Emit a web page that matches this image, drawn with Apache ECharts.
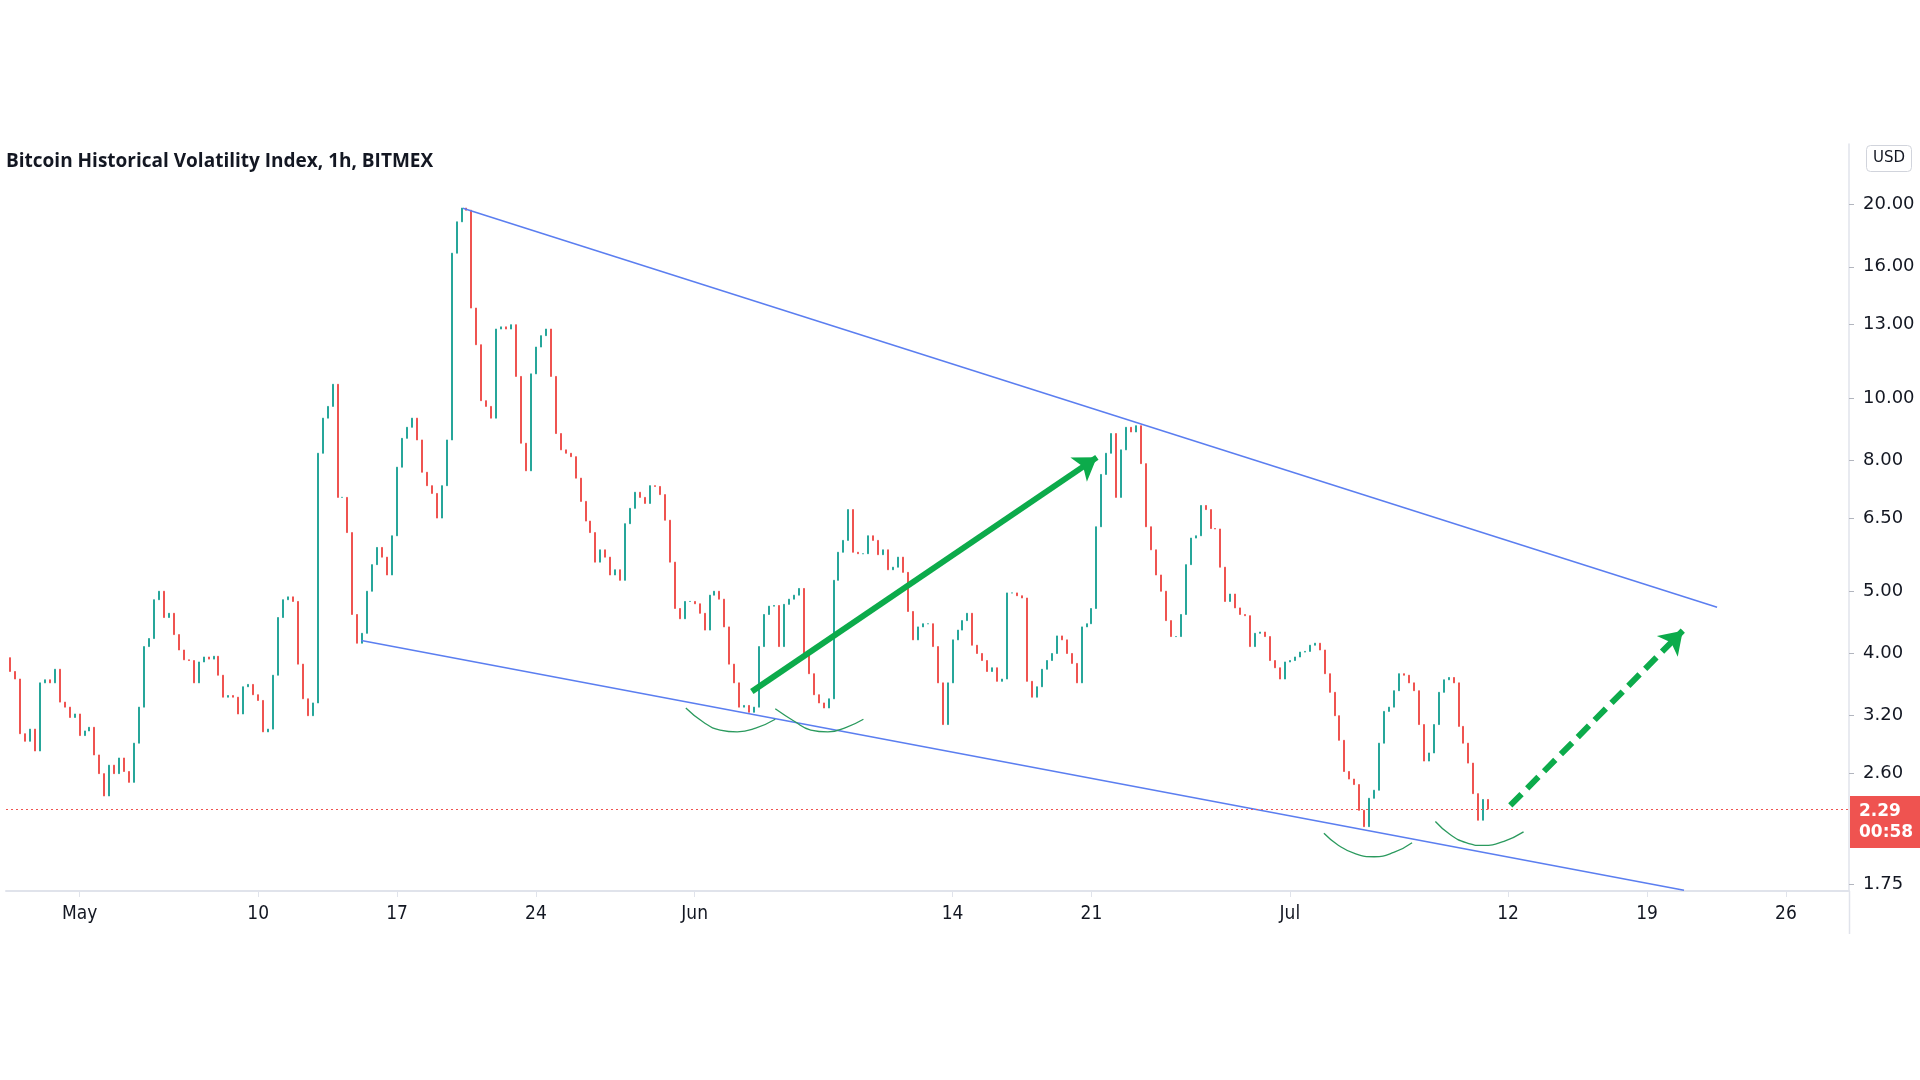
<!DOCTYPE html>
<html>
<head>
<meta charset="utf-8">
<script src="https://cdn.jsdelivr.net/npm/echarts@6/dist/echarts.min.js"></script>
<style>
html,body{margin:0;padding:0;background:#ffffff;}
#chart{width:1920px;height:1080px;}
</style>
</head>
<body>
<div id="chart"></div>
<script>
// ---------------- data ----------------
const chartTitle = 'Bitcoin Historical Volatility Index, 1h, BITMEX';
const currencyLabel = 'USD';
const candleStart = '2020-04-27 12:00';
const candleStepHours = 6;
const firstOpen = 3.94;
const closes = [
  3.75, 3.65, 3.0, 2.92, 3.05, 2.82, 3.6, 3.64, 3.6, 3.78,
  3.36, 3.3, 3.18, 3.22, 2.98, 3.03, 3.07, 2.78, 2.6, 2.4,
  2.68, 2.6, 2.75, 2.62, 2.52, 2.9, 3.3, 4.1, 4.22, 4.85,
  5.0, 4.55, 4.62, 4.28, 4.05, 3.91, 3.9, 3.6, 3.88, 3.95,
  3.92, 3.96, 3.7, 3.42, 3.44, 3.42, 3.22, 3.55, 3.58, 3.45,
  3.38, 3.02, 3.05, 3.7, 4.55, 4.85, 4.9, 4.82, 3.85, 3.4,
  3.2, 3.35, 8.2, 9.3, 9.7, 10.5, 7.0, 7.0, 6.17, 4.6,
  4.15, 4.3, 5.0, 5.5, 5.85, 5.65, 5.3, 6.1, 7.8, 8.65,
  9.0, 9.3, 8.6, 7.66, 7.3, 7.1, 6.5, 7.3, 8.6, 16.8,
  18.8, 19.75, 19.6, 13.8, 12.1, 9.9, 9.7, 9.3, 12.8, 12.9,
  12.8, 13.0, 10.8, 8.5, 7.7, 10.9, 12.0, 12.5, 12.8, 10.8,
  8.8, 8.3, 8.2, 8.1, 7.5, 6.9, 6.43, 6.17, 5.55, 5.8,
  5.65, 5.3, 5.4, 5.2, 6.37, 6.73, 7.13, 7.0, 6.85, 7.3,
  7.28, 7.07, 6.45, 5.55, 4.7, 4.53, 4.82, 4.82, 4.78, 4.62,
  4.35, 4.93, 5.0, 4.86, 4.4, 3.85, 3.6, 3.3, 3.32, 3.24,
  3.3, 4.1, 4.6, 4.74, 4.75, 4.1, 4.77, 4.86, 4.93, 5.05,
  4.0, 3.72, 3.45, 3.35, 3.29, 3.4, 5.2, 5.75, 6.0, 6.7,
  5.75, 5.72, 5.72, 6.1, 6.0, 5.7, 5.8, 5.4, 5.45, 5.65,
  5.35, 4.65, 4.2, 4.4, 4.45, 4.45, 4.1, 3.6, 3.1, 3.6,
  4.2, 4.35, 4.5, 4.62, 4.12, 4.0, 3.9, 3.75, 3.8, 3.62,
  3.65, 4.97, 4.97, 4.92, 4.88, 3.62, 3.42, 3.55, 3.78, 3.9,
  4.0, 4.26, 4.2, 4.0, 3.86, 3.6, 4.4, 4.45, 4.7, 6.3,
  7.6, 8.2, 8.8, 7.0, 8.3, 9.0, 8.85, 9.05, 7.9, 6.3,
  5.8, 5.3, 5.0, 4.5, 4.25, 4.25, 4.6, 5.5, 6.05, 6.1,
  6.8, 6.7, 6.26, 6.25, 5.45, 4.82, 4.95, 4.71, 4.6, 4.58,
  4.1, 4.3, 4.32, 4.25, 3.9, 3.8, 3.65, 3.88, 3.9, 3.95,
  4.02, 4.03, 4.12, 4.15, 4.05, 3.72, 3.48, 3.2, 2.93, 2.62,
  2.55, 2.5, 2.28, 2.15, 2.38, 2.45, 2.9, 3.25, 3.3, 3.5,
  3.72, 3.7, 3.6, 3.5, 3.1, 2.72, 2.8, 3.1, 3.48, 3.64,
  3.67, 3.6, 3.08, 2.9, 2.7, 2.42, 2.2, 2.37, 2.29
];
const lastPrice = 2.29;
const countdownText = '00:58';

const priceTicks = [20, 16, 13, 10, 8, 6.5, 5, 4, 3.2, 2.6, 1.75];
const timeTickDates = ['2020-05-01 00:00','2020-05-10 00:00','2020-05-17 00:00','2020-05-24 00:00','2020-06-01 00:00','2020-06-14 00:00','2020-06-21 00:00','2020-07-01 00:00','2020-07-12 00:00','2020-07-19 00:00','2020-07-26 00:00'];
const timeTickLabels = ['May','10','17','24','Jun','14','21','Jul','12','19','26'];
const timeRange = ['2020-04-27 07:00', '2020-07-29 04:20'];
const priceRange = [1.707, 24.85];

// drawn annotations (time, value)
const upperTrend = [['2020-05-20 07:42', 19.74], ['2020-07-22 12:45', 4.72]];
const lowerTrend = [['2020-05-15 04:45', 4.19], ['2020-07-20 20:44', 1.712]];
const solidArrow = [['2020-06-03 21:11', 3.49], ['2020-06-21 06:31', 8.08]];
const dashedArrow = [['2020-07-12 02:40', 2.32], ['2020-07-20 19:15', 4.34]];
const arc1 = [['2020-05-31 13:20', 3.29], ['2020-06-01 11:33', 3.12], ['2020-06-02 06:49', 3.04], ['2020-06-03 03:33', 3.02], ['2020-06-04 01:47', 3.06], ['2020-06-05 01:30', 3.16]];
const arc2 = [['2020-06-05 01:30', 3.28], ['2020-06-06 00:00', 3.14], ['2020-06-06 20:27', 3.04], ['2020-06-07 17:11', 3.02], ['2020-06-08 15:25', 3.07], ['2020-06-09 12:09', 3.16]];
const arc3 = [['2020-07-02 17:11', 2.10], ['2020-07-03 10:58', 2.01], ['2020-07-04 07:42', 1.95], ['2020-07-05 05:56', 1.93], ['2020-07-06 05:38', 1.96], ['2020-07-07 03:50', 2.03]];
const arc4 = [['2020-07-08 08:00', 2.19], ['2020-07-09 01:47', 2.09], ['2020-07-09 21:03', 2.03], ['2020-07-10 17:47', 2.01], ['2020-07-11 18:58', 2.04], ['2020-07-12 18:40', 2.11]];

// ---------------- build ----------------
function utc(s) { return Date.parse(s.replace(' ', 'T') + ':00Z'); }
const pts = arr => arr.map(p => [utc(p[0]), p[1]]);

const t0 = utc(candleStart);
const step = candleStepHours * 3600 * 1000;
const candleData = closes.map((c, i) => {
  const o = i === 0 ? firstOpen : closes[i - 1];
  return [t0 + i * step, o, c, Math.min(o, c), Math.max(o, c)];
});
const timeTickValues = timeTickDates.map(utc);

const UP = '#26a69a', DOWN = '#ef5350';
const BLUE = '#5b7ef0', GREEN = '#0cab4b', ARC = '#2b9a5e';
const TXT = '#131722', AXIS = '#e0e3eb';

function lineSeries(data, color, width, smooth) {
  return { type: 'line', data: pts(data), symbol: 'none', smooth: !!smooth, silent: true,
    lineStyle: { color: color, width: width }, z: 3 };
}
function arrowSeries(data, dash) {
  const p = pts(data);
  return { type: 'line', data: [], silent: true, z: 4,
    markLine: { silent: true, animation: false, symbol: ['none', 'arrow'], symbolSize: 22,
      label: { show: false },
      lineStyle: { color: GREEN, width: 6, type: dash ? [16, 8] : 'solid', cap: 'butt' },
      data: [[{ coord: p[0] }, { coord: p[1] }]] } };
}

const chart = echarts.init(document.getElementById('chart'), null, { renderer: 'canvas' });
chart.setOption({
  animation: false,
  backgroundColor: '#ffffff',
  title: [
    { text: chartTitle, left: 6, top: 152, padding: 0,
      textStyle: { fontFamily: 'Open Sans', fontWeight: 700, fontSize: 19, color: TXT } },
    { text: currencyLabel, left: 1866, top: 145, padding: [6, 7], borderColor: '#d1d4dc', borderWidth: 1, borderRadius: 4,
      textStyle: { fontFamily: 'DejaVu Sans', fontWeight: 400, fontSize: 15, color: TXT } }
  ],
  grid: { left: 6, right: 71, top: 144, bottom: 189 },
  xAxis: {
    type: 'value', min: utc(timeRange[0]), max: utc(timeRange[1]), scale: true,
    axisLine: { show: true, lineStyle: { color: AXIS, width: 2 } },
    axisTick: { show: true, customValues: timeTickValues, length: 6, lineStyle: { color: AXIS } },
    axisLabel: { customValues: timeTickValues, margin: 14, color: TXT, fontSize: 19,
      fontFamily: '"Liberation Sans Narrow", "DejaVu Sans Condensed", sans-serif',
      formatter: function (v) {
        const i = timeTickValues.findIndex(t => Math.abs(t - v) < 3600000);
        return i >= 0 ? timeTickLabels[i] : '';
      } },
    splitLine: { show: false }
  },
  yAxis: {
    type: 'log', position: 'right', min: priceRange[0], max: priceRange[1],
    axisLine: { show: true, lineStyle: { color: AXIS, width: 1.5 } },
    axisTick: { show: true, customValues: priceTicks, length: 5, lineStyle: { color: '#b2b5be' } },
    axisLabel: { customValues: priceTicks, margin: 14, color: TXT, fontSize: 18, fontFamily: 'DejaVu Sans',
      formatter: v => Number(v).toFixed(2) },
    splitLine: { show: false }
  },
  graphic: [
    { type: 'line', silent: true, shape: { x1: 1849.5, y1: 891, x2: 1849.5, y2: 934 }, style: { stroke: AXIS, lineWidth: 1.5 } }
  ],
  series: [
    {
      type: 'candlestick', data: candleData, encode: { x: 0, y: [1, 2, 3, 4] },
      barWidth: 1.5, silent: true,
      itemStyle: { color: UP, color0: DOWN, borderColor: UP, borderColor0: DOWN, borderWidth: 1 },
      markLine: {
        silent: true, animation: false, symbol: ['none', 'none'],
        lineStyle: { color: DOWN, type: [2, 3], width: 1 },
        label: { show: true, position: 'end', distance: 1, offset: [0, 13],
          formatter: lastPrice.toFixed(2) + '\n' + countdownText,
          backgroundColor: DOWN, color: '#ffffff', fontFamily: 'DejaVu Sans', fontSize: 17, fontWeight: 'bold',
          lineHeight: 21, padding: [5, 9, 5, 9], align: 'left' },
        data: [{ yAxis: lastPrice }]
      }
    },
    lineSeries(upperTrend, BLUE, 1.5),
    lineSeries(lowerTrend, BLUE, 1.5),
    lineSeries(arc1, ARC, 1.3, true),
    lineSeries(arc2, ARC, 1.3, true),
    lineSeries(arc3, ARC, 1.3, true),
    lineSeries(arc4, ARC, 1.3, true),
    arrowSeries(solidArrow, false),
    arrowSeries(dashedArrow, true)
  ]
});
</script>
</body>
</html>
